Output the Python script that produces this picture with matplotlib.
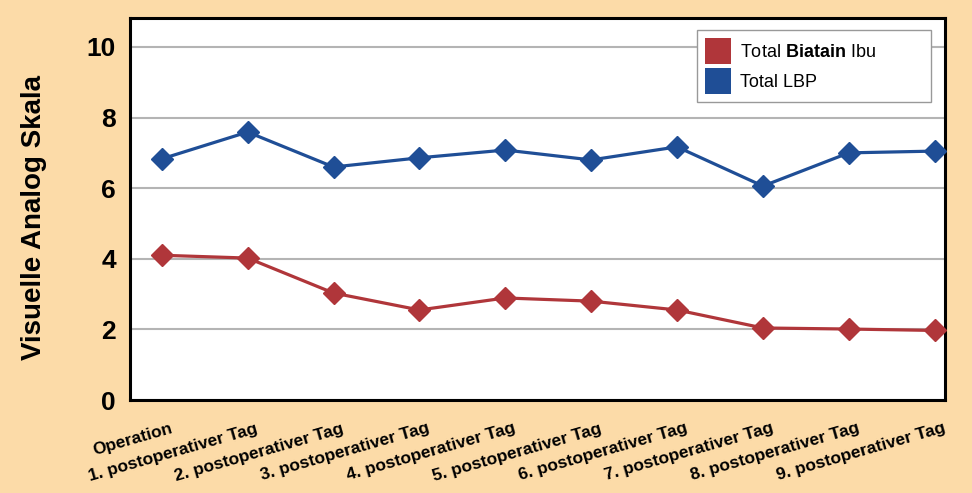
import numpy as np
import matplotlib
matplotlib.use("Agg")
import matplotlib.pyplot as plt
import matplotlib.transforms as mtransforms
from matplotlib.patches import Patch

plt.rcParams['font.family'] = ['Liberation Sans', 'DejaVu Sans']
plt.rcParams['mathtext.fontset'] = 'custom'
plt.rcParams['mathtext.rm'] = 'Liberation Sans'
plt.rcParams['mathtext.bf'] = 'Liberation Sans:bold'

# daten
labels = ['Operation'] + ['%d. postoperativer Tag' % i for i in range(1, 10)]
biatain = [4.10, 4.02, 3.03, 2.55, 2.89, 2.80, 2.55, 2.04, 2.01, 1.97]
lbp = [6.83, 7.59, 6.60, 6.86, 7.08, 6.80, 7.17, 6.06, 7.00, 7.05]

red = '#B0363A'
blue = '#1F4E96'
bg = '#FCDBA8'

fig = plt.figure(figsize=(9.72, 4.93), dpi=100, facecolor=bg)
ax = fig.add_axes([130/972, 1-400/493, (945-130)/972, (400-18)/493])

x = np.arange(len(labels))
ax.plot(x, biatain, color=red, lw=2.3, marker='D', ms=11.5, zorder=3, clip_on=False)
ax.plot(x, lbp, color=blue, lw=2.3, marker='D', ms=11.5, zorder=3, clip_on=False)

ax.set_xlim(-0.37, 9.12)
ax.set_ylim(0, 10.82)
ax.set_yticks([0, 2, 4, 6, 8, 10])
ax.set_yticklabels(['0', '2', '4', '6', '8', '10'], fontsize=19, fontweight='bold')
ax.yaxis.grid(True, color='#B4B4B4', lw=1.5)
ax.set_axisbelow(True)
ax.tick_params(axis='y', length=0, pad=10)
ax.tick_params(axis='x', length=0, pad=15)
ax.set_xticks(x)
ax.set_xticklabels(labels, rotation=16, ha='right', rotation_mode='anchor',
                   fontsize=12.5, fontweight='bold')
shift = mtransforms.ScaledTranslation(8/100, 0, fig.dpi_scale_trans)
for lab in ax.get_xticklabels():
    lab.set_transform(lab.get_transform() + shift)
for s in ax.spines.values():
    s.set_linewidth(2.2)
    s.set_color('black')

ax.set_ylabel('Visuelle Analog Skala', fontsize=20, fontweight='bold')
ax.yaxis.set_label_coords(-0.102, 0.479)

handles = [Patch(facecolor=red, edgecolor='none'), Patch(facecolor=blue, edgecolor='none')]
leg = ax.legend(handles, ['Total $\\mathbf{Biatain}$ Ibu', 'Total LBP'],
                loc='upper left', bbox_to_anchor=(0.696, 0.780, 0.287, 0.189),
                mode='expand', fontsize=13,
                fancybox=False, framealpha=1, edgecolor='#999999',
                handlelength=1.4, handleheight=1.8, handletextpad=0.5,
                labelspacing=0.25, borderpad=0.45, borderaxespad=0)
leg.get_frame().set_linewidth(1.0)

fig.savefig('out.png', dpi=100, facecolor=bg)
